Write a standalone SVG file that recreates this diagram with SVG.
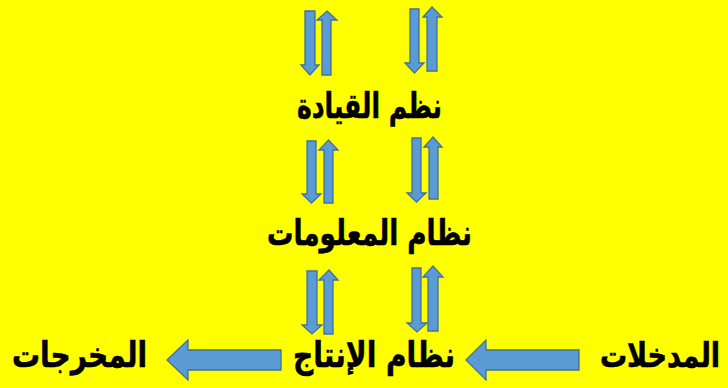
<svg xmlns="http://www.w3.org/2000/svg" width="728" height="388" viewBox="0 0 728 388">
<style>
.a{fill:#5B9BD5;stroke:#41719C;stroke-width:1.3;stroke-linejoin:miter}
.t{font-family:"DejaVu Sans",sans-serif;font-weight:bold;font-size:35px;fill:#000;text-anchor:middle;stroke:#000;stroke-width:0.6}
</style>
<rect width="728" height="388" fill="#FFFF00"/>
<g id="connectors">
<path class="a" d="M305,11H315V65H319L310,75L301,65H305Z"/>
<path class="a" d="M327,11L337,20H331V75H322V20H317Z"/>
<path class="a" d="M410,9H419V63H424L414.5,73L405,63H410Z"/>
<path class="a" d="M432,7L442,17H437V71H427V17H423Z"/>
<path class="a" d="M307,141H316V194H321L311.5,203L302,194H307Z"/>
<path class="a" d="M328.5,140L338,150H333V203H324V150H319Z"/>
<path class="a" d="M412,138H421V193H426L416.5,202L407,193H412Z"/>
<path class="a" d="M433,137L442,147H438V199H429V147H424Z"/>
<path class="a" d="M307,271H317V325H322L312,334L302,325H307Z"/>
<path class="a" d="M329,270L338,280H333V334H324V280H319Z"/>
<path class="a" d="M412,268H421V323H427L417,332L407,323H412Z"/>
<path class="a" d="M433,266L443,277H438V331H428V277H423Z"/>
<path class="a" d="M167,360L188,340V350H281V370H188V380Z"/>
<path class="a" d="M466,360L486,340V350H579V370H486V380Z"/>
</g>
<g id="leadership"><text class="t" x="369.5" y="118" direction="rtl" textLength="145" lengthAdjust="spacingAndGlyphs">نظم القيادة</text></g>
<g id="information"><text class="t" x="369.5" y="245" direction="rtl" textLength="205" lengthAdjust="spacingAndGlyphs">نظام المعلومات</text></g>
<g id="production"><text class="t" x="374" y="367" direction="rtl" textLength="162" lengthAdjust="spacingAndGlyphs">نظام الإنتاج</text></g>
<g id="outputs"><text class="t" x="79.5" y="367" direction="rtl" textLength="135" lengthAdjust="spacingAndGlyphs">المخرجات</text></g>
<g id="inputs"><text class="t" x="660" y="0" direction="rtl" transform="translate(0,367) scale(1,1.25)" style="font-size:27px;stroke-width:0.5">المدخلات</text></g>
</svg>
